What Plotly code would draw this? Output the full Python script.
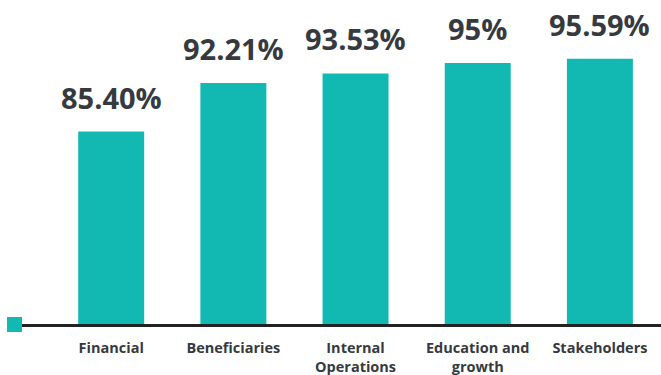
import plotly.graph_objects as go

categories = ["Financial", "Beneficiaries", "Internal<br>Operations", "Education and<br>growth", "Stakeholders"]
values = [85.40, 92.21, 93.53, 95, 95.59]
labels = ["85.40%", "92.21%", "93.53%", "95%", "95.59%"]

teal = "#12B9B3"
dark = "#363A3F"

fig = go.Figure()
fig.add_trace(go.Bar(
    x=list(range(len(categories))), y=values,
    marker=dict(color=teal, line=dict(width=0)),
    width=0.54, hoverinfo="skip",
))

for i, (v, t) in enumerate(zip(values, labels)):
    fig.add_annotation(x=i, y=v, text=t, showarrow=False, yanchor="bottom",
                       yshift=13, font=dict(family="Open Sans", size=29, color=dark,
                                            weight="bold"))

fig.add_shape(type="rect", xref="paper", yref="paper",
              x0=-15/639, x1=0, y0=-8/324, y1=7/324,
              fillcolor=teal, line=dict(width=0))

fig.update_layout(
    width=661, height=375,
    margin=dict(l=22, r=0, t=0, b=51),
    plot_bgcolor="white", paper_bgcolor="white",
    showlegend=False,
    xaxis=dict(range=[-0.73, 4.5], tickmode="array",
               tickvals=list(range(len(categories))), ticktext=categories,
               showgrid=False, zeroline=False,
               showline=True, linecolor="#222222", linewidth=2.5,
               ticks="outside", ticklen=9, tickcolor="rgba(0,0,0,0)",
               tickfont=dict(family="Open Sans", size=14.5, color=dark, weight="bold")),
    yaxis=dict(range=[58.5, 103.8], visible=False, showgrid=False, zeroline=False),
)

fig.write_html("out.html")
